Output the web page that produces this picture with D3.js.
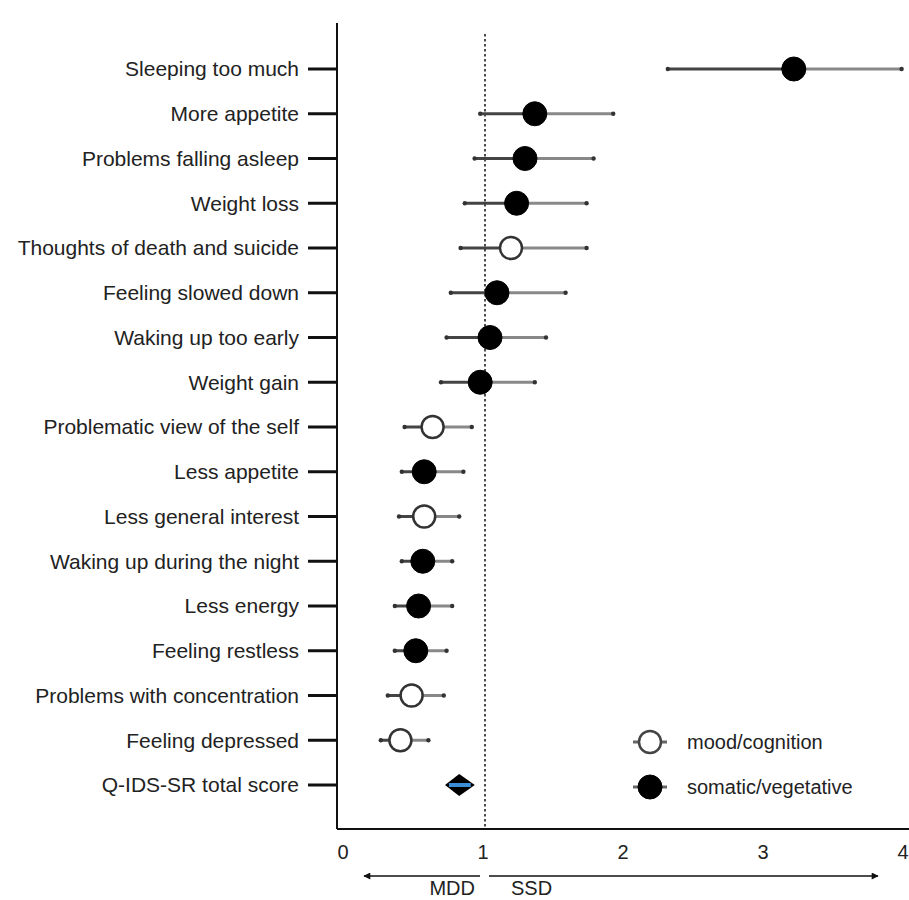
<!DOCTYPE html>
<html>
<head>
<meta charset="utf-8">
<script src="https://cdn.jsdelivr.net/npm/d3@7"></script>
<style>
  body { margin: 0; background: #fff; }
  text { font-family: "Liberation Sans", Arial, Helvetica, sans-serif; }
</style>
</head>
<body>
<svg></svg>
<script>
// symptom items, top to bottom
const symptoms = [
  "Sleeping too much", "More appetite", "Problems falling asleep", "Weight loss",
  "Thoughts of death and suicide", "Feeling slowed down", "Waking up too early",
  "Weight gain", "Problematic view of the self", "Less appetite",
  "Less general interest", "Waking up during the night", "Less energy",
  "Feeling restless", "Problems with concentration", "Feeling depressed",
  "Q-IDS-SR total score"
];
const estimate = [3.22, 1.37, 1.30, 1.24, 1.20, 1.10, 1.05, 0.98, 0.64, 0.58, 0.58, 0.57, 0.54, 0.52, 0.49, 0.41, 0.83];
const lower    = [2.32, 0.98, 0.94, 0.87, 0.84, 0.77, 0.74, 0.70, 0.44, 0.42, 0.40, 0.42, 0.37, 0.37, 0.32, 0.27, 0.75];
const upper    = [3.99, 1.93, 1.79, 1.74, 1.74, 1.59, 1.45, 1.37, 0.92, 0.86, 0.83, 0.78, 0.78, 0.74, 0.72, 0.61, 0.92];
const domain   = ["somatic", "somatic", "somatic", "somatic", "mood", "somatic", "somatic",
                  "somatic", "mood", "somatic", "mood", "somatic", "somatic", "somatic",
                  "mood", "mood", "total"];
const xTicks = [0, 1, 2, 3, 4];
const legendItems = ["mood/cognition", "somatic/vegetative"];
const legendKinds = ["mood", "somatic"];

const width = 909;
const height = 900;

const svg = d3.select("svg")
    .attr("width", width)
    .attr("height", height)

const x = d3.scaleLinear().domain([0, 4]).range([343, 903]);
const y = d3.scalePoint().domain(symptoms).range([69, 785]);

const axisX = 337, axisTop = 23, axisBottom = 829;

// left axis line + bottom line
svg.append("line")
    .attr("x1", axisX).attr("x2", axisX)
    .attr("y1", axisTop).attr("y2", axisBottom)
    .attr("stroke", "#111").attr("stroke-width", 2);

svg.append("line")
    .attr("x1", axisX).attr("x2", width)
    .attr("y1", axisBottom).attr("y2", axisBottom)
    .attr("stroke", "#111").attr("stroke-width", 2);

svg.selectAll(".ytick")
    .data(symptoms)
    .join("line")
    .attr("x1", 308).attr("x2", axisX)
    .attr("y1", d => y(d)).attr("y2", d => y(d))
    .attr("stroke", "#111").attr("stroke-width", 3);

svg.selectAll(".ylab")
    .data(symptoms)
    .join("text")
    .attr("x", 299)
    .attr("y", d => y(d))
    .attr("dy", "0.35em")
    .attr("text-anchor", "end")
    .attr("font-size", 21)
    .attr("fill", "#222")
    .text(d => d);

// x tick labels (no tick marks)
svg.selectAll(".xlab")
    .data(xTicks)
    .join("text")
    .attr("x", d => x(d))
    .attr("y", 859)
    .attr("text-anchor", "middle")
    .attr("font-size", 20)
    .attr("fill", "#222")
    .text(d => d);

// reference line at 1
svg.append("line")
    .attr("x1", x(1) + 2).attr("x2", x(1) + 2)
    .attr("y1", 34).attr("y2", axisBottom)
    .attr("stroke", "#111").attr("stroke-width", 1.5)
    .attr("stroke-dasharray", "2.5,2.5");

// MDD / SSD arrows
const defs = svg.append("defs");
defs.append("marker")
    .attr("id", "arrow")
    .attr("viewBox", "0 0 10 10")
    .attr("refX", 9).attr("refY", 5)
    .attr("markerWidth", 9).attr("markerHeight", 7)
    .attr("markerUnits", "userSpaceOnUse")
    .attr("orient", "auto")
    .append("path")
    .attr("d", "M0,0 L10,5 L0,10 z")
    .attr("fill", "#111");

svg.append("line")
    .attr("x1", 480).attr("x2", 364)
    .attr("y1", 876).attr("y2", 876)
    .attr("stroke", "#111").attr("stroke-width", 1.5)
    .attr("marker-end", "url(#arrow)");
svg.append("line")
    .attr("x1", 489).attr("x2", 878)
    .attr("y1", 876).attr("y2", 876)
    .attr("stroke", "#111").attr("stroke-width", 1.5)
    .attr("marker-end", "url(#arrow)");

svg.append("text").attr("x", 475).attr("y", 895)
    .attr("text-anchor", "end").attr("font-size", 20).attr("fill", "#222").text("MDD");
svg.append("text").attr("x", 511).attr("y", 895)
    .attr("text-anchor", "start").attr("font-size", 20).attr("fill", "#222").text("SSD");

// error bars
const rows = symptoms.map((s, i) => ({name: s, est: estimate[i], lo: lower[i], hi: upper[i], kind: domain[i]}));
const bars = rows.filter(d => d.kind !== "total");

svg.selectAll(".ci-left")
    .data(bars)
    .join("line")
    .attr("x1", d => x(d.lo)).attr("x2", d => x(d.est))
    .attr("y1", d => y(d.name)).attr("y2", d => y(d.name))
    .attr("stroke", "#444").attr("stroke-width", 3);

svg.selectAll(".ci-right")
    .data(bars)
    .join("line")
    .attr("x1", d => x(d.est)).attr("x2", d => x(d.hi))
    .attr("y1", d => y(d.name)).attr("y2", d => y(d.name))
    .attr("stroke", "#888").attr("stroke-width", 3);

// little end caps
svg.selectAll(".cap")
    .data(bars.flatMap(d => [{name: d.name, v: d.lo}, {name: d.name, v: d.hi}]))
    .join("circle")
    .attr("cx", d => x(d.v)).attr("cy", d => y(d.name))
    .attr("r", 2.2)
    .attr("fill", "#333");

svg.selectAll(".pt")
    .data(bars)
    .join("circle")
    .attr("cx", d => x(d.est))
    .attr("cy", d => y(d.name))
    .attr("r", d => d.kind === "mood" ? 11 : 12)
    .attr("fill", d => d.kind === "mood" ? "#fff" : "#000")
    .attr("stroke", d => d.kind === "mood" ? "#333" : "#000")
    .attr("stroke-width", d => d.kind === "mood" ? 2.5 : 1);

// total score diamond
const tot = rows.filter(d => d.kind === "total");
svg.selectAll(".diamond")
    .data(tot)
    .join("path")
    .attr("d", d => {
        const cx = x(d.est), cy = y(d.name);
        return `M${x(d.lo) - 3},${cy} L${cx},${cy - 11} L${x(d.hi) + 3},${cy} L${cx},${cy + 11} Z`;
    })
    .attr("fill", "#000");
svg.selectAll(".diamond-ci")
    .data(tot)
    .join("line")
    .attr("x1", d => x(d.lo) + 1).attr("x2", d => x(d.hi) - 1)
    .attr("y1", d => y(d.name)).attr("y2", d => y(d.name))
    .attr("stroke", "#3a8fd6").attr("stroke-width", 4);

// legend
const legY = d3.scalePoint().domain(legendItems).range([742, 787]);
const leg = svg.selectAll(".leg")
    .data(legendItems)
    .join("g")
    .attr("transform", d => `translate(650,${legY(d)})`);
leg.append("line")
    .attr("x1", -17).attr("x2", 17)
    .attr("stroke", "#666").attr("stroke-width", 3);
leg.append("circle")
    .attr("r", (d, i) => legendKinds[i] === "mood" ? 11 : 12)
    .attr("fill", (d, i) => legendKinds[i] === "mood" ? "#fff" : "#000")
    .attr("stroke", (d, i) => legendKinds[i] === "mood" ? "#444" : "#000")
    .attr("stroke-width", (d, i) => legendKinds[i] === "mood" ? 2.5 : 1);
leg.append("text")
    .attr("x", 37)
    .attr("dy", "0.35em")
    .attr("font-size", 20)
    .attr("fill", "#222")
    .text(d => d);
</script>
</body>
</html>
